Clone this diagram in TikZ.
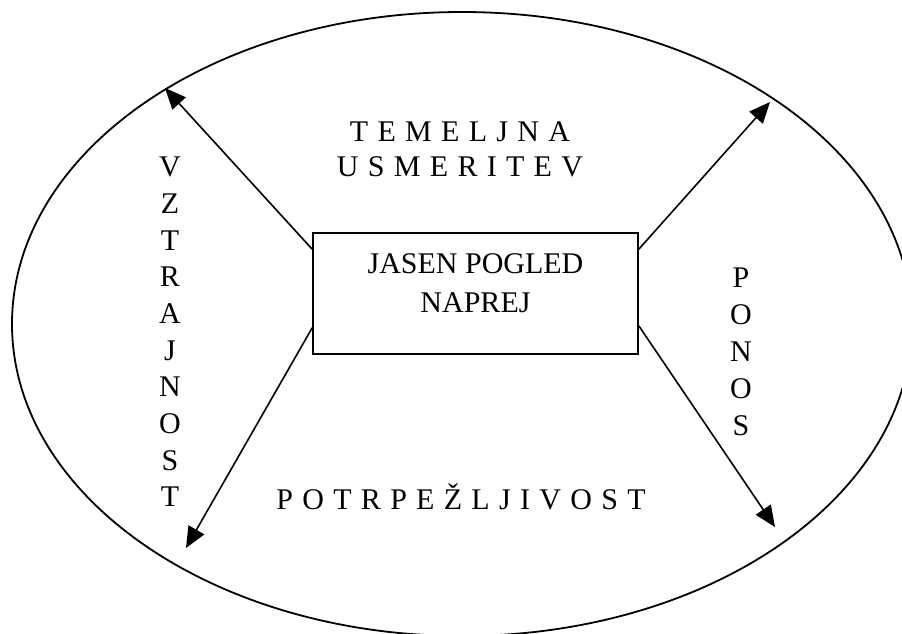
\documentclass[tikz,border=0pt]{standalone}
\usepackage{fontspec}
\setmainfont{Liberation Serif}
\usetikzlibrary{arrows.meta,shapes.geometric}
\begin{document}
\begin{tikzpicture}[x=1pt,y=-1pt,
  line/.style={line width=1.6pt,black},
  arr/.style={line, -{Triangle[length=21pt,width=18pt]}},
  lbl/.style={inner sep=0pt,font=\fontsize{30}{39}\selectfont},
  spaced/.style={lbl,execute at begin node={\spaceskip=9.3pt plus 0pt minus 0pt\relax}},
  vlet/.style={lbl,anchor=center}
]
\useasboundingbox (0,0) rectangle (902,634);
% outer ellipse
\node[ellipse,draw,line width=1.8pt,minimum width=900pt,minimum height=624pt,inner sep=0pt] (oval) at (462,324) {};
% central box
\node[draw,line width=1.6pt,minimum width=325pt,minimum height=121pt,inner sep=0pt] (box) at (475.5,293.5) {};
\node[lbl,align=center] (boxtext) at (475.5,283) {JASEN POGLED\\NAPREJ};
% texts
\node[spaced] (tem) at (460,132) {T E M E L J N A};
\node[spaced] (usm) at (460,167) {U S M E R I T E V};
\node[spaced] (pot) at (461,497) {P O T R P E Ž L J I V O S T};
% vertical VZTRAJNOST
\foreach \c [count=\i from 0] in {V,Z,T,R,A,J,N,O,S,T} {
  \node[vlet] (vz\i) at (170,{167+36.67*\i}) {\c};
}
% vertical PONOS
\foreach \c [count=\i from 0] in {P,O,N,O,S} {
  \node[vlet] (po\i) at (741,{278+37*\i}) {\c};
}
% arrow tips on the ellipse
\coordinate (tl) at (165,88);
\coordinate (tr) at (770,102);
\coordinate (bl) at (186,548);
\coordinate (br) at (775,527);
% arrows
\draw[arr] ([yshift=-17pt]box.north west) -- (tl);
\draw[arr] ([yshift=-17pt]box.north east) -- (tr);
\draw[arr] ([yshift=27pt]box.south west) -- (bl);
\draw[arr] ([yshift=29pt]box.south east) -- (br);
\end{tikzpicture}
\end{document}
